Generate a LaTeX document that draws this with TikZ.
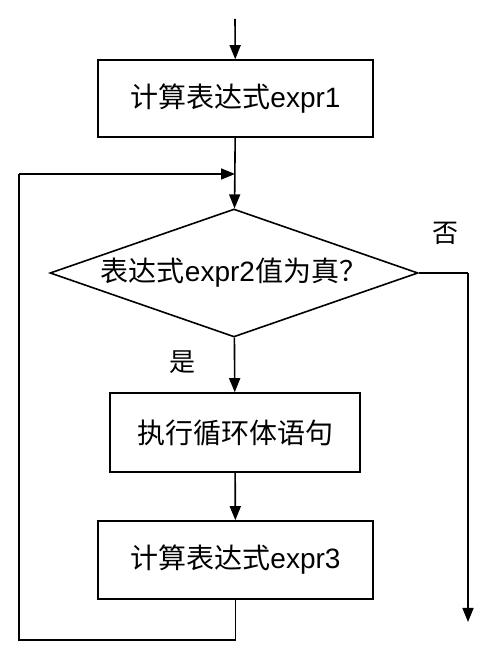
\documentclass[tikz,border=0pt]{standalone}
\usepackage{fontspec}
\setmainfont{Liberation Sans}
\newfontfamily\zhfont{Noto Sans CJK SC}
\usetikzlibrary{shapes.geometric,arrows.meta}
\newcommand{\zh}[1]{{\zhfont #1}}
\tikzset{
  box/.style={rectangle,draw=black,line width=1.6pt,fill=white,inner sep=0pt},
  cond/.style={diamond,aspect=2.875,draw=black,line width=1.6pt,fill=white,inner sep=0pt,minimum width=368pt,minimum height=128pt},
  flow/.style={line width=1.6pt,-{Triangle[length=14pt,width=11pt]}},
  line/.style={line width=1.6pt},
  lbl/.style={font=\fontsize{26}{30}\selectfont}
}
\begin{document}
\begin{tikzpicture}[x=1pt,y=1pt,font=\fontsize{28}{34}\selectfont]
        \useasboundingbox (0,0) rectangle (489,660);
        \coordinate (start) at (235,641);
        \node[box,minimum width=275pt,minimum height=77pt] (expr1) at (235.5,561.5){\zh{计算表达式}expr1};
        \coordinate (join) at (235,486);
        \node[cond] (test) at (234,387){\zh{表达式}expr2\zh{值为真？}};
        \node[box,minimum width=250pt,minimum height=79pt] (body) at (235,227.5){\zh{执行循环体语句}};
        \node[box,minimum width=275pt,minimum height=78pt] (expr3) at (235.5,100){\zh{计算表达式}expr3};
        \coordinate (bl) at (19,20);
        \coordinate (tl) at (19,486);
        \coordinate (nr) at (468,387);
        \coordinate (exit) at (468,38);
        \node[lbl] (no) at (445,427){\zh{否}};
        \node[lbl] (yes) at (182,298){\zh{是}};
        \draw[flow] (start) -- (expr1);
        \draw[flow] (expr1) -- (test);
        \draw[flow] (test) -- (body);
        \draw[flow] (body) -- (expr3);
        \draw[line] (expr3.south) |- (bl) -- (tl);
        \draw[flow] (tl) -- (join);
        \draw[line] (test.east) -- (nr);
        \draw[flow] (nr) -- (exit);
        \end{tikzpicture}
\end{document}
